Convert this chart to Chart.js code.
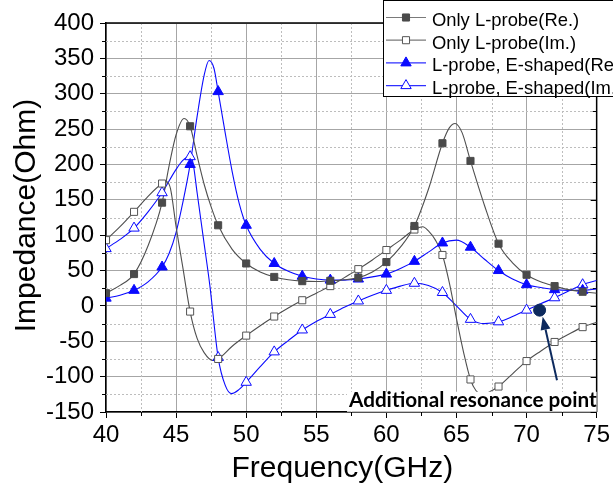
<!DOCTYPE html>
<html>
<head>
<meta charset="utf-8">
<script src="https://cdn.jsdelivr.net/npm/chart.js@4.4.1/dist/chart.umd.min.js"></script>
<style>
  html, body { margin: 0; padding: 0; background: #fff; }
</style>
</head>
<body>
<canvas id="impChart" width="613" height="485"></canvas>
<script>
// Only L-probe, real part
const freqRe = [40, 41, 42, 43, 44, 44.5, 45, 45.57, 46, 46.5, 47, 47.5, 48, 49, 50, 51, 52, 53, 54, 55, 56, 57, 58, 59, 60, 61, 62, 63, 64, 64.5, 64.9, 65.4, 66, 67, 68, 69, 70, 71, 72, 73, 74, 75];
const valRe = [18, 29, 45, 85, 146, 198, 242, 265, 254, 212, 172, 140, 114, 80, 60, 48, 41, 37, 35, 34.5, 35.5, 37, 40, 48, 62, 83, 113, 165, 230, 252, 258, 245, 205, 142, 88, 61, 44, 34, 28, 23, 20, 18];

// Only L-probe, imaginary part
const freqIm = [40, 41, 42, 43, 44, 44.3, 44.6, 45, 45.5, 46, 46.5, 47, 47.6, 48, 49, 50, 51, 52, 53, 54, 55, 56, 57, 58, 59, 60, 61, 62, 62.6, 63, 63.5, 64, 64.5, 65, 65.5, 66, 66.4, 66.85, 67.3, 68, 69, 70, 71, 72, 73, 74, 75];
const valIm = [93, 112, 133, 155, 173, 176, 166, 112, 52, -8, -46, -66, -77, -75, -57, -42, -28, -15, -3, 8, 18, 28, 40, 52, 65, 79, 93, 108, 112, 106, 93, 72, 32, -18, -65, -104, -120, -125, -122, -114, -96, -78, -64, -51, -40, -30, -23];

// L-probe + E-shaped, real part
const freqERe = [40, 41, 42, 43, 44, 44.5, 45, 45.5, 46, 46.5, 47, 47.35, 47.7, 48, 48.5, 49, 49.5, 50, 51, 52, 53, 54, 55, 56, 57, 58, 59, 60, 61, 62, 63, 64, 65, 66, 67, 68, 69, 70, 71, 72, 73, 74, 75];
const valERe = [11, 15, 22, 34, 55, 74, 104, 148, 200, 268, 326, 347, 336, 303, 245, 190, 145, 114, 80, 60, 49, 42, 38, 36.5, 36.5, 38, 41, 45, 53, 63, 76, 89, 93, 83, 66, 50, 38, 30, 26, 23, 22, 22, 24];

// L-probe + E-shaped, imaginary part
const freqEIm = [40, 41, 42, 43, 44, 45, 45.5, 46, 46.2, 46.5, 47, 47.4, 48, 48.5, 48.95, 49.5, 50, 51, 52, 53, 54, 55, 56, 57, 58, 59, 60, 61, 62, 63, 64, 65, 66, 67, 68, 69, 70, 71, 72, 73, 74, 75];
const valEIm = [81, 94, 110, 133, 160, 193, 206, 211, 203, 160, 88, 30, -73, -112, -124, -118, -108, -86, -65, -49, -34, -22, -12, -2, 7, 15, 22, 28, 32, 29, 19, 0, -19, -25, -22.5, -15, -6, 3, 11.5, 21, 30, 36];

const seriesNames = ['Only L-probe(Re.)', 'Only L-probe(Im.)', 'L-probe, E-shaped(Re.)', 'L-probe, E-shaped(Im.)'];

// annotation
const resonanceX = [70.93];
const resonanceY = [-6];
const arrowFrom = [72.17, -105];
const arrowTo = [71.15, -15.4];
const noteText = 'Additional resonance point';
const noteAt = [75, -142.6];

const xTicks = [40, 75, 5];
const yTicks = [-150, 400, 50];

function pts(xs, ys) {
    return xs.map((x, i) => ({ x: x, y: ys[i] }));
}
function markers(xs, ys) {
    return pts(xs, ys).filter(p => p.x % 2 === 0);
}

const GRAY = '#4f4f4f';
const BLUE = '#0a0aff';
const NAVY = '#0d2a5e';

const styles = [
    { line: GRAY, pointStyle: 'rect', radius: 5, fill: '#4a4a4a', stroke: '#4a4a4a' },
    { line: GRAY, pointStyle: 'rect', radius: 5, fill: '#ffffff', stroke: '#555555' },
    { line: BLUE, pointStyle: 'triangle', radius: 6, fill: BLUE, stroke: BLUE },
    { line: BLUE, pointStyle: 'triangle', radius: 6, fill: '#ffffff', stroke: BLUE }
];

const series = [[freqRe, valRe], [freqIm, valIm], [freqERe, valERe], [freqEIm, valEIm]];

const datasets = [];
datasets.push({
    label: 'resonance',
    data: pts(resonanceX, resonanceY),
    showLine: false,
    pointStyle: 'circle',
    pointRadius: 6,
    pointBackgroundColor: NAVY,
    pointBorderColor: NAVY
});
series.forEach(([xs, ys], i) => {
    datasets.push({
        label: seriesNames[i] + ' markers',
        data: markers(xs, ys),
        showLine: false,
        pointStyle: styles[i].pointStyle,
        pointRadius: styles[i].radius,
        pointBackgroundColor: styles[i].fill,
        pointBorderColor: styles[i].stroke,
        pointBorderWidth: 1
    });
});
series.forEach(([xs, ys], i) => {
    datasets.push({
        label: seriesNames[i],
        data: pts(xs, ys),
        borderColor: styles[i].line,
        borderWidth: 1.1,
        pointRadius: 0,
        cubicInterpolationMode: 'monotone',
        fill: false
    });
});

const extras = {
    id: 'extras',
    beforeDatasetsDraw(chart) {
        const { ctx, chartArea: a, scales: { x, y } } = chart;
        ctx.save();
        // minor dotted grid
        ctx.strokeStyle = '#bdbdbd';
        ctx.lineWidth = 1;
        ctx.setLineDash([2, 2]);
        for (let v = xTicks[0] + xTicks[2] / 2; v < xTicks[1]; v += xTicks[2]) {
            const px = Math.round(x.getPixelForValue(v)) + 0.5;
            ctx.beginPath(); ctx.moveTo(px, a.top); ctx.lineTo(px, a.bottom); ctx.stroke();
        }
        for (let v = yTicks[0] + yTicks[2] / 2; v < yTicks[1]; v += yTicks[2]) {
            const py = Math.round(y.getPixelForValue(v)) + 0.5;
            ctx.beginPath(); ctx.moveTo(a.left, py); ctx.lineTo(a.right, py); ctx.stroke();
        }
        ctx.setLineDash([]);
        // frame top and right
        ctx.strokeStyle = '#000';
        ctx.lineWidth = 1.5;
        ctx.beginPath();
        ctx.moveTo(a.left, a.top); ctx.lineTo(a.right, a.top); ctx.lineTo(a.right, a.bottom);
        ctx.stroke();
        // minor ticks and right-axis ticks
        ctx.lineWidth = 1;
        for (let v = xTicks[0] + xTicks[2] / 2; v < xTicks[1]; v += xTicks[2]) {
            const px = Math.round(x.getPixelForValue(v)) + 0.5;
            ctx.beginPath(); ctx.moveTo(px, a.bottom); ctx.lineTo(px, a.bottom + 4); ctx.stroke();
        }
        for (let v = yTicks[0]; v <= yTicks[1]; v += yTicks[2] / 2) {
            const py = Math.round(y.getPixelForValue(v)) + 0.5;
            const major = (v - yTicks[0]) % yTicks[2] === 0;
            if (!major) {
                ctx.beginPath(); ctx.moveTo(a.left, py); ctx.lineTo(a.left - 4, py); ctx.stroke();
            }
            ctx.beginPath(); ctx.moveTo(a.right, py); ctx.lineTo(a.right - (major ? 6 : 4), py); ctx.stroke();
        }
        ctx.restore();
    },
    afterDatasetsDraw(chart) {
        const { ctx, scales: { x, y } } = chart;
        ctx.save();
        // arrow
        const x0 = x.getPixelForValue(arrowFrom[0]), y0 = y.getPixelForValue(arrowFrom[1]);
        const x1 = x.getPixelForValue(arrowTo[0]), y1 = y.getPixelForValue(arrowTo[1]);
        const ang = Math.atan2(y1 - y0, x1 - x0);
        const hl = 13, hw = 5;
        const bx = x1 - hl * Math.cos(ang), by = y1 - hl * Math.sin(ang);
        ctx.strokeStyle = NAVY;
        ctx.fillStyle = NAVY;
        ctx.lineWidth = 2;
        ctx.beginPath(); ctx.moveTo(x0, y0); ctx.lineTo(bx, by); ctx.stroke();
        ctx.beginPath();
        ctx.moveTo(x1, y1);
        ctx.lineTo(bx + hw * Math.sin(ang), by - hw * Math.cos(ang));
        ctx.lineTo(bx - hw * Math.sin(ang), by + hw * Math.cos(ang));
        ctx.closePath(); ctx.fill();
        // note text
        ctx.font = 'bold 20.7px Lato';
        const tx = x.getPixelForValue(noteAt[0]), ty = y.getPixelForValue(noteAt[1]);
        const w = ctx.measureText(noteText).width;
        ctx.fillStyle = '#fff';
        ctx.fillRect(tx - w - 2, ty - 15, w + 2, 20);
        ctx.fillStyle = '#000';
        ctx.textAlign = 'right';
        ctx.textBaseline = 'alphabetic';
        ctx.fillText(noteText, tx, ty);
        ctx.restore();
    },
    afterDraw(chart) {
        const { ctx, chartArea: a } = chart;
        ctx.save();
        // axis titles
        ctx.fillStyle = '#000';
        ctx.font = '30px "Liberation Sans"';
        ctx.textAlign = 'center';
        ctx.textBaseline = 'alphabetic';
        ctx.fillText('Frequency(GHz)', (a.left + a.right) / 2 - 9, 477);
        ctx.translate(35, (a.top + a.bottom) / 2 - 2);
        ctx.rotate(-Math.PI / 2);
        ctx.fillText('Impedance(Ohm)', 0, 0);
        ctx.restore();

        // legend box
        ctx.save();
        ctx.fillStyle = '#fff';
        ctx.fillRect(383.5, 0.5, 240, 96);
        ctx.strokeStyle = '#000';
        ctx.lineWidth = 1;
        ctx.strokeRect(383.5, 0.5, 240, 96);
        ctx.font = '18.4px "Liberation Sans"';
        ctx.textAlign = 'left';
        ctx.textBaseline = 'alphabetic';
        seriesNames.forEach((name, i) => {
            const base = 26 + i * 22.7;
            const my = base - 8.5;
            const s = styles[i];
            ctx.strokeStyle = i < 2 ? '#7a7a7a' : '#2f2fff';
            ctx.lineWidth = 1.2;
            ctx.beginPath(); ctx.moveTo(386, my); ctx.lineTo(426, my); ctx.stroke();
            ctx.fillStyle = s.fill;
            ctx.strokeStyle = s.stroke;
            ctx.lineWidth = 1;
            Chart.helpers.drawPoint(ctx, { pointStyle: s.pointStyle, radius: s.radius, borderWidth: 1, rotation: 0 }, 406, my);
            ctx.fillStyle = '#000';
            ctx.fillText(name, 432, base);
        });
        ctx.restore();
    }
};

new Chart(document.getElementById('impChart').getContext('2d'), {
    type: 'line',
    data: { datasets: datasets },
    options: {
        responsive: false,
        animation: false,
        devicePixelRatio: 1,
        layout: { padding: { top: 23, right: 15, left: 0, bottom: 0 } },
        plugins: {
            legend: { display: false },
            tooltip: { enabled: false }
        },
        scales: {
            x: {
                type: 'linear',
                min: xTicks[0],
                max: xTicks[1],
                ticks: {
                    stepSize: xTicks[2],
                    autoSkip: false,
                    maxRotation: 0,
                    color: '#000',
                    padding: 3,
                    font: { family: 'Liberation Sans', size: 24 }
                },
                grid: { color: '#a6a6a6', lineWidth: 1, tickColor: '#000', tickLength: 6 },
                border: { color: '#000', width: 1.5 },
                afterFit: s => { s.height = 73; }
            },
            y: {
                type: 'linear',
                min: yTicks[0],
                max: yTicks[1],
                ticks: {
                    stepSize: yTicks[2],
                    color: '#000',
                    padding: 6,
                    font: { family: 'Liberation Sans', size: 24 }
                },
                grid: { color: '#a6a6a6', lineWidth: 1, tickColor: '#000', tickLength: 6 },
                border: { color: '#000', width: 1.5 },
                afterFit: s => { s.width = 106; }
            }
        }
    },
    plugins: [extras]
});
</script>
</body>
</html>
